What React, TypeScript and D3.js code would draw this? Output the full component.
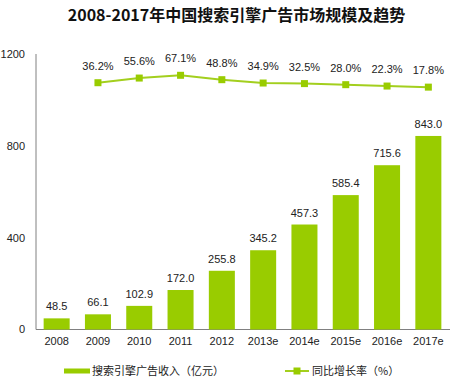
import React from "react";
import * as d3 from "d3";

const categories = ["2008", "2009", "2010", "2011", "2012", "2013e", "2014e", "2015e", "2016e", "2017e"];
const revenue = [48.5, 66.1, 102.9, 172.0, 255.8, 345.2, 457.3, 585.4, 715.6, 843.0];
const growthYears = ["2009", "2010", "2011", "2012", "2013e", "2014e", "2015e", "2016e", "2017e"];
const growth = [36.2, 55.6, 67.1, 48.8, 34.9, 32.5, 28.0, 22.3, 17.8];
const yTicks = [0, 400, 800, 1200];
const title = "2008-2017年中国搜索引擎广告市场规模及趋势";
const legendBar = "搜索引擎广告收入（亿元）";
const legendLine = "同比增长率（%）";

const W = 452;
const H = 377;
const GREEN = "#99CC00";
const LINE = "#A3CF1E";
const TEXT = "#222";
const FONT = "'Liberation Sans', Arial, sans-serif";

export default function App() {
  const x = d3.scaleBand<string>().domain(categories).range([36, 449]).paddingInner(0.37).paddingOuter(0.185);
  const y = d3.scaleLinear().domain([0, 1200]).range([329.5, 54]);
  const y2 = d3.scaleLinear().domain([0, 100]).range([91.4, 67.4]);
  const cx = (c: string) => (x(c) as number) + x.bandwidth() / 2;
  const line = d3
    .line<number>()
    .x((_, i) => cx(growthYears[i]))
    .y((d) => y2(d));

  return (
    <svg width={W} height={H} style={{ position: "absolute", left: 0, top: 0, background: "#fff" }} fontFamily={FONT}>
      <text x={236.5} y={21} textAnchor="middle" fontSize={16} fontWeight="bold" fill="#111" fontFamily="'Noto Sans CJK SC', sans-serif">
        {title}
      </text>
      {/* axes */}
      <line x1={36} x2={36} y1={y(1200)} y2={y(0)} stroke="#808080" strokeWidth={1} />
      <line x1={36} x2={450} y1={y(0)} y2={y(0)} stroke="#808080" strokeWidth={1} />
      {yTicks.map((t) => (
        <text key={t} x={25} y={y(t)} dy="0.35em" textAnchor="end" fontSize={11} fill={TEXT}>
          {t}
        </text>
      ))}
      {categories.map((c) => (
        <text key={c} x={cx(c)} y={345} textAnchor="middle" fontSize={11} fill={TEXT}>
          {c}
        </text>
      ))}
      {/* bars */}
      {revenue.map((v, i) => (
        <g key={categories[i]}>
          <rect x={x(categories[i])} y={y(v)} width={x.bandwidth()} height={y(0) - y(v)} fill={GREEN} />
          <text x={cx(categories[i])} y={y(v) - 8} textAnchor="middle" fontSize={11} fill={TEXT}>
            {v.toFixed(1)}
          </text>
        </g>
      ))}
      {/* growth line */}
      <path d={line(growth) as string} fill="none" stroke={LINE} strokeWidth={2} />
      {growth.map((v, i) => (
        <g key={growthYears[i]}>
          <rect x={cx(growthYears[i]) - 3.5} y={y2(v) - 3.5} width={7} height={7} fill={GREEN} />
          <text x={cx(growthYears[i])} y={y2(v) - 13} textAnchor="middle" fontSize={11} fill={TEXT}>
            {v.toFixed(1) + "%"}
          </text>
        </g>
      ))}
      {/* legend */}
      <rect x={64} y={368.5} width={26} height={5} fill={GREEN} />
      <text x={92} y={375} fontSize={11} fill={TEXT} fontFamily="'Noto Sans CJK SC', sans-serif">
        {legendBar}
      </text>
      <line x1={285} x2={309} y1={371} y2={371} stroke={LINE} strokeWidth={2} />
      <rect x={293.5} y={367.5} width={7} height={7} fill={GREEN} />
      <text x={312} y={375} fontSize={11} fill={TEXT} fontFamily="'Noto Sans CJK SC', sans-serif">
        {legendLine}
      </text>
    </svg>
  );
}
